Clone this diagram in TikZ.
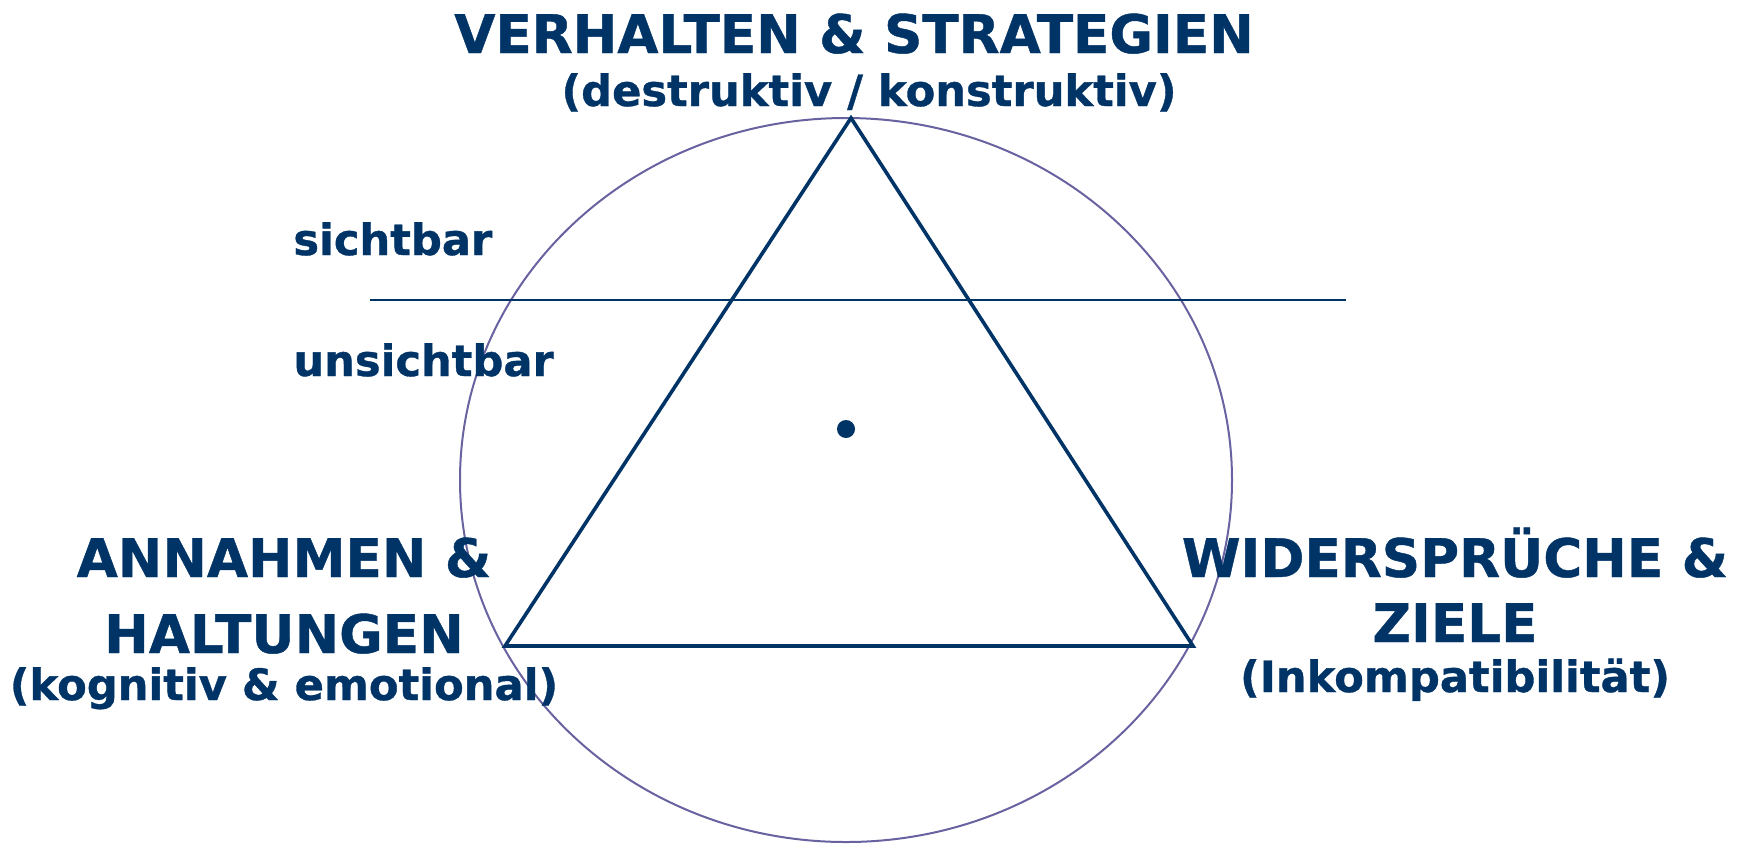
\documentclass[tikz,border=0pt]{standalone}
\usepackage{fontspec}
\setmainfont{DejaVu Sans}[BoldFeatures={FakeBold=0.8}]
\usepackage{tikz}

\definecolor{navy}{RGB}{0,51,102}
\definecolor{ringcol}{RGB}{104,98,160}

\begin{document}
\begin{tikzpicture}[x=0.5pt,y=-0.5pt,
  big/.style={font=\fontsize{26.6}{30}\selectfont\bfseries,text=navy,inner sep=0pt},
  small/.style={font=\fontsize{21.6}{25}\selectfont\bfseries,text=navy,inner sep=0pt}]
\useasboundingbox (0,0) rectangle (1756,843);

% ring around the triangle
\draw[ringcol,line width=1pt] (846,480) ellipse [x radius=193pt,y radius=181pt];

% the triangle
\coordinate (top) at (851,118);
\coordinate (left) at (505,646);
\coordinate (right) at (1193,646);
\draw[navy,line width=1.8pt,line join=miter] (top) -- (left) -- (right) -- cycle;

% visible / invisible border
\coordinate (borderL) at (370,300);
\coordinate (borderR) at (1346,300);
\draw[navy,line width=1pt] (borderL) -- (borderR);
\node[circle,fill=navy,minimum size=9pt,inner sep=0pt] (mid) at (846,429) {};

\node[big,anchor=base] (verhalten) at (854,53) {VERHALTEN \& STRATEGIEN};
\node[small,anchor=base] (verhaltensub) at (869,106) {(destruktiv / konstruktiv)};
\node[small,anchor=base west] (sicht) at (293,255) {sichtbar};
\node[small,anchor=base west] (unsicht) at (293,376) {unsichtbar};

% left corner
\node[big,anchor=base] (annahmen) at (284,577) {ANNAHMEN \&};
\node[big,anchor=base] (haltungen) at (284,653) {HALTUNGEN};
\node[small,anchor=base] (haltungensub) at (284,700) {(kognitiv \& emotional)};

% right corner
\node[big,anchor=base] (widerspr) at (1455,577) {WIDERSPRÜCHE \&};
\node[big,anchor=base] (ziele) at (1455,642) {ZIELE};
\node[small,anchor=base] (zielesub) at (1455,692) {(Inkompatibilität)};
\end{tikzpicture}
\end{document}
